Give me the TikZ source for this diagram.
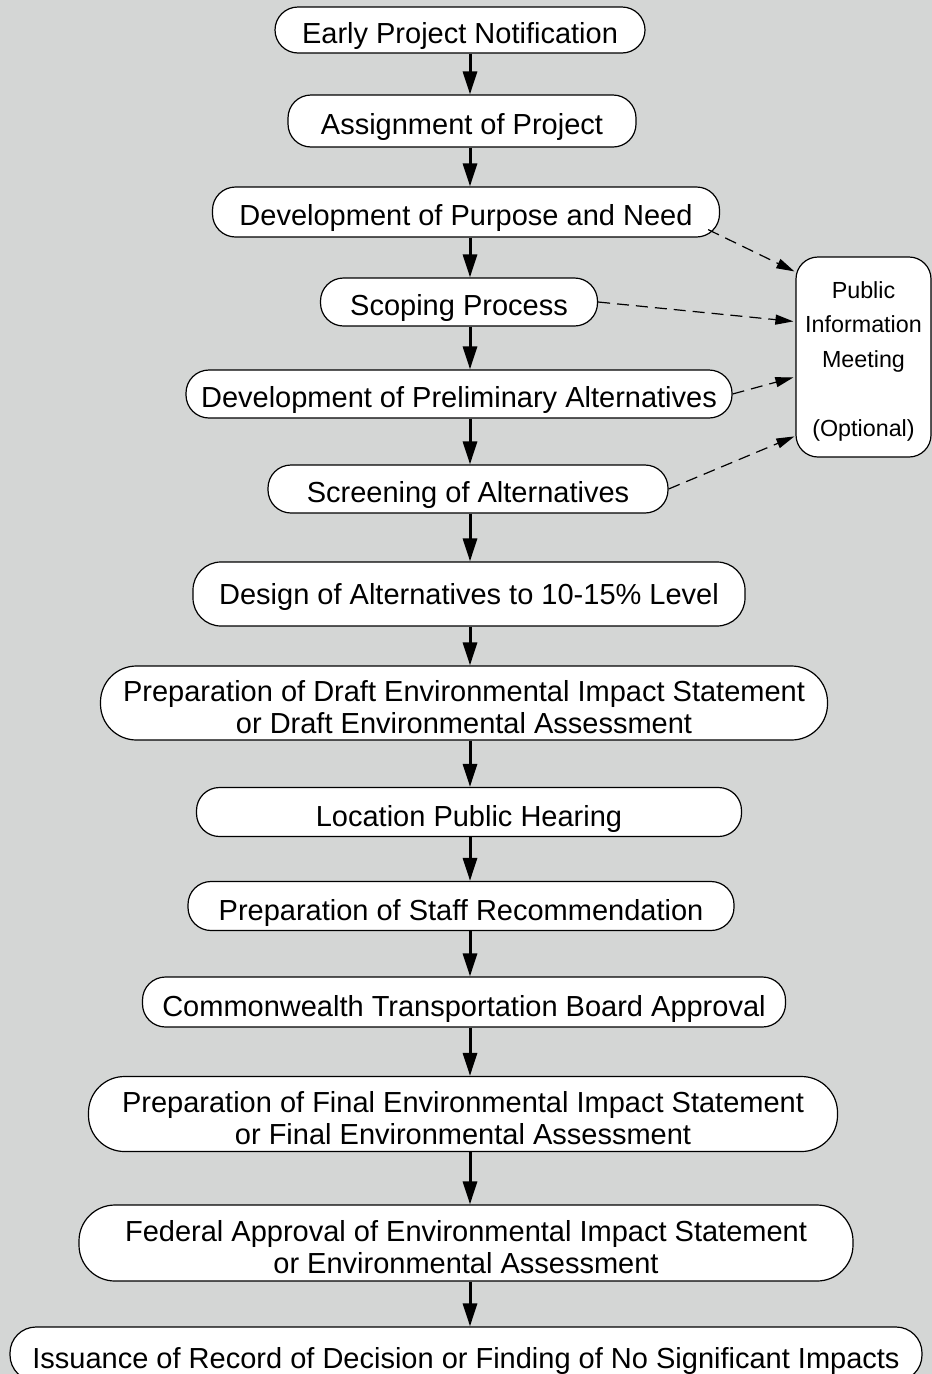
\documentclass[tikz,border=0pt]{standalone}
\usepackage{fontspec}
\setmainfont{Liberation Sans}
\usetikzlibrary{arrows.meta,calc}
\definecolor{bg}{RGB}{212,214,213}
\newcommand{\upone}{\rule{0pt}{34pt}}
\newcommand{\uptwo}{\rule{0pt}{29pt}}
\begin{document}
\begin{tikzpicture}[x=1pt,y=-1pt,
  box/.style={draw, fill=white, line width=1.2pt, rounded corners=23pt, inner sep=0pt,
    align=center, font=\fontsize{29}{32}\selectfont},
  tallbox/.style={box, rounded corners=36pt},
  flow/.style={line width=3pt, -{Triangle[length=23pt,width=14pt]}},
  opt/.style={line width=1.2pt, dash pattern=on 12pt off 7pt, -{Triangle[length=18pt,width=10pt]}}]
\useasboundingbox (0,0) rectangle (932,1374);
\clip (0,0) rectangle (932,1374);
\fill[bg] (0,0) rectangle (932,1374);
\coordinate (ax) at (470,0);

\node[box, minimum width=370pt, minimum height=46pt] (n1) at (460,30) {\upone Early Project Notification};
\node[box, minimum width=348pt, minimum height=52pt] (n2) at (462,121) {\upone Assignment of Project};
\node[box, minimum width=507pt, minimum height=50pt] (n3) at (466,212) {\upone Development of Purpose and Need};
\node[box, minimum width=277pt, minimum height=48pt] (n4) at (459,302) {\upone Scoping Process};
\node[box, minimum width=546pt, minimum height=48pt] (n5) at (459,394) {\upone Development of Preliminary Alternatives};
\node[box, minimum width=400pt, minimum height=48pt] (n6) at (468,489) {\upone Screening of Alternatives};
\node[box, rounded corners=28pt, minimum width=552pt, minimum height=64pt] (n7) at (469,594) {\rule{0pt}{27pt}Design of Alternatives to 10-15\% Level};
\node[tallbox, minimum width=727pt, minimum height=74pt] (n8) at (464,703) {\uptwo Preparation of Draft Environmental Impact Statement\\or Draft Environmental Assessment};
\node[box, minimum width=545pt, minimum height=49pt] (n9) at (469,812) {\upone Location Public Hearing};
\node[box, minimum width=546pt, minimum height=49pt] (n10) at (461,906) {\upone Preparation of Staff Recommendation};
\node[box, minimum width=643pt, minimum height=50pt] (n11) at (464,1002) {\upone Commonwealth Transportation Board Approval};
\node[tallbox, minimum width=749pt, minimum height=75pt] (n12) at (463,1114) {\uptwo Preparation of Final Environmental Impact Statement\\or Final Environmental Assessment};
\node[tallbox, minimum width=774pt, minimum height=76pt] (n13) at (466,1243) {\uptwo Federal Approval of Environmental Impact Statement\\or Environmental Assessment};
\node[box, rounded corners=26pt, minimum width=912pt, minimum height=54pt] (n14) at (466,1354) {\upone Issuance of Record of Decision or Finding of No Significant Impacts};

\node[box, rounded corners=22pt, minimum width=135pt, minimum height=200pt,
  font=\fontsize{23.3}{34.5}\selectfont] (pim) at (863.5,357)
  {\rule{0pt}{25pt}Public\\Information\\Meeting\\\strut\\(Optional)};

\foreach \a/\b in {n1/n2,n2/n3,n3/n4,n4/n5,n5/n6,n6/n7,n7/n8,n8/n9,n9/n10,n10/n11,n11/n12,n12/n13,n13/n14}
  \draw[flow] (\a.south -| ax) -- (\b.north -| ax);

\coordinate (p1) at ($(pim.north west)+(-1,15)$);
\coordinate (p2) at ($(pim.north west)+(-2,65)$);
\coordinate (p3) at ($(pim.north west)+(-2,121)$);
\coordinate (p4) at ($(pim.north west)+(-1,180)$);
\draw[opt] ($(n3.south east)+(-12,-8)$) -- (p1);
\draw[opt] (n4.east) -- (p2);
\draw[opt] (n5.east) -- (p3);
\draw[opt] (n6.east) -- (p4);
\end{tikzpicture}
\end{document}
